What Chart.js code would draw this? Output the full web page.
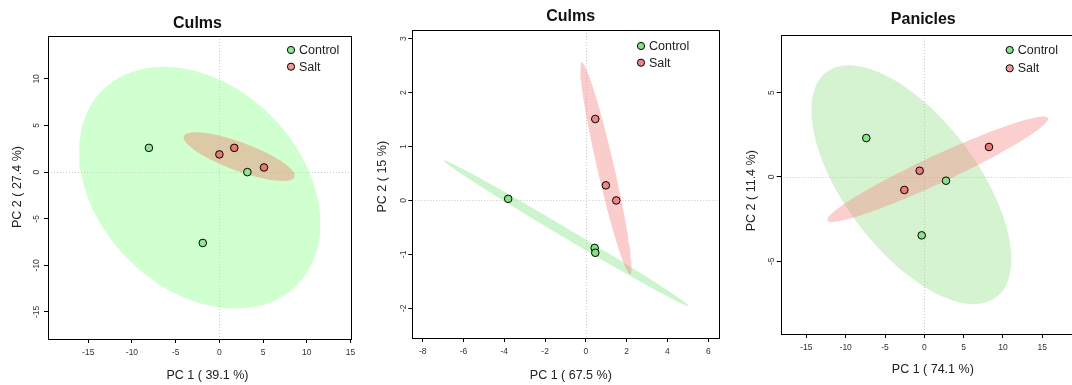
<!DOCTYPE html>
<html>
<head>
<meta charset="utf-8">
<script src="https://cdn.jsdelivr.net/npm/chart.js@4.4.1/dist/chart.umd.min.js"></script>
<style>
  body { margin: 0; width: 1072px; height: 385px; overflow: hidden; background: #fff; position: relative; }
  .panel { position: absolute; top: 0; height: 385px; }
</style>
</head>
<body>
<div class="panel" style="left:0;width:360px"><canvas id="c1"></canvas></div>
<div class="panel" style="left:360px;width:360px"><canvas id="c2"></canvas></div>
<div class="panel" style="left:720px;width:365px"><canvas id="c3"></canvas></div>
<script>
const groups = ['Control', 'Salt'];

// Culms, first PCA (PC1 39.1 %, PC2 27.4 %)
const culmsA_controlPC1 = [-8.06, -1.9, 3.2];
const culmsA_controlPC2 = [2.6, -7.6, 0.0];
const culmsA_saltPC1 = [0.0, 1.7, 5.1];
const culmsA_saltPC2 = [1.9, 2.6, 0.5];
const culmsA_xTicks = [-15, -10, -5, 0, 5, 10, 15];
const culmsA_yTicks = [-15, -10, -5, 0, 5, 10];

// Culms, second PCA (PC1 67.5 %, PC2 15 %)
const culmsB_controlPC1 = [-3.81, 0.43, 0.46];
const culmsB_controlPC2 = [0.03, -0.88, -0.97];
const culmsB_saltPC1 = [0.46, 0.98, 1.49];
const culmsB_saltPC2 = [1.51, 0.28, 0.0];
const culmsB_xTicks = [-8, -6, -4, -2, 0, 2, 4, 6];
const culmsB_yTicks = [-2, -1, 0, 1, 2, 3];

// Panicles (PC1 74.1 %, PC2 11.4 %)
const pan_controlPC1 = [-7.38, 2.76, -0.33];
const pan_controlPC2 = [2.31, -0.22, -3.46];
const pan_saltPC1 = [-0.59, -2.54, 8.23];
const pan_saltPC2 = [0.37, -0.77, 1.78];
const pan_xTicks = [-15, -10, -5, 0, 5, 10, 15];
const pan_yTicks = [-5, 0, 5];

const FONT = '"Liberation Sans", Arial, sans-serif';

// 95% confidence ellipse, as in ellipse::ellipse(cov, centre, level = 0.95)
function confEllipse(xs, ys) {
  const n = xs.length;
  const mx = xs.reduce((a, b) => a + b, 0) / n;
  const my = ys.reduce((a, b) => a + b, 0) / n;
  let sxx = 0, syy = 0, sxy = 0;
  for (let i = 0; i < n; i++) {
    sxx += (xs[i] - mx) ** 2;
    syy += (ys[i] - my) ** 2;
    sxy += (xs[i] - mx) * (ys[i] - my);
  }
  const sx = Math.sqrt(sxx / (n - 1)), sy = Math.sqrt(syy / (n - 1));
  const r = (sxy / (n - 1)) / (sx * sy);
  const t = Math.sqrt(5.991465); // qchisq(0.95, 2)
  const a = Math.acos(r);
  const pts = [];
  for (let i = 0; i <= 100; i++) {
    const d = 2 * Math.PI * i / 100;
    pts.push({ x: mx + t * sx * Math.cos(d + a / 2), y: my + t * sy * Math.cos(d - a / 2) });
  }
  return pts;
}

const toPoints = (xs, ys) => xs.map((x, i) => ({ x: x, y: ys[i] }));

// draws the box, zero lines, title, legend and axis titles
const decorPlugin = {
  id: 'decor',
  beforeDatasetsDraw(chart) {
    const { ctx, chartArea: a, scales: { x, y } } = chart;
    ctx.save();
    ctx.strokeStyle = '#c8c8c8';
    ctx.lineWidth = 1;
    ctx.setLineDash([1, 2]);
    const x0 = Math.round(x.getPixelForValue(0)) + 0.5;
    const y0 = Math.round(y.getPixelForValue(0)) + 0.5;
    ctx.beginPath();
    ctx.moveTo(x0, a.top); ctx.lineTo(x0, a.bottom);
    ctx.moveTo(a.left, y0); ctx.lineTo(a.right, y0);
    ctx.stroke();
    ctx.restore();
  },
  afterDraw(chart, args, o) {
    const { ctx, chartArea: a } = chart;
    ctx.save();
    ctx.strokeStyle = '#000';
    ctx.lineWidth = 1;
    ctx.strokeRect(Math.round(a.left) + 0.5, Math.round(a.top) + 0.5,
                   Math.round(a.right - a.left), Math.round(a.bottom - a.top));

    ctx.fillStyle = '#111';
    ctx.textAlign = 'center';
    ctx.textBaseline = 'middle';
    ctx.font = 'bold 16px ' + FONT;
    ctx.fillText(o.title, o.titlePos[0], o.titlePos[1]);

    ctx.fillStyle = '#222';
    ctx.font = '12.5px ' + FONT;
    ctx.fillText(o.xTitle, o.xTitlePos[0], o.xTitlePos[1]);
    ctx.save();
    ctx.translate(o.yTitlePos[0], o.yTitlePos[1]);
    ctx.rotate(-Math.PI / 2);
    ctx.fillText(o.yTitle, 0, 0);
    ctx.restore();

    // legend
    ctx.textAlign = 'left';
    groups.forEach((g, i) => {
      const ly = o.legendPos[1] + i * o.legendGap;
      ctx.beginPath();
      ctx.arc(o.legendPos[0], ly, 3.6, 0, 2 * Math.PI);
      ctx.fillStyle = o.pointColors[i];
      ctx.fill();
      ctx.strokeStyle = '#000';
      ctx.lineWidth = 1;
      ctx.stroke();
      ctx.fillStyle = '#222';
      ctx.fillText(g, o.legendPos[0] + 8, ly + 0.5);
    });
    ctx.restore();
  }
};

function makePanel(id, p) {
  const W = p.width;
  const ellipseDs = (xs, ys, color, order) => ({
    type: 'scatter',
    data: confEllipse(xs, ys),
    showLine: true,
    fill: 'shape',
    backgroundColor: color,
    borderWidth: 0,
    borderColor: 'rgba(0,0,0,0)',
    pointRadius: 0,
    pointHoverRadius: 0,
    order: order
  });
  const pointDs = (xs, ys, color, order) => ({
    type: 'scatter',
    data: toPoints(xs, ys),
    backgroundColor: color,
    borderColor: '#000',
    borderWidth: 1,
    pointRadius: 3.8,
    order: order
  });
  const tickFont = { family: FONT, size: 8.5 };
  new Chart(document.getElementById(id), {
    type: 'scatter',
    data: {
      datasets: [
        ellipseDs(p.cx, p.cy, p.fills[0], 4),
        ellipseDs(p.sx, p.sy, p.fills[1], 3),
        pointDs(p.cx, p.cy, p.pointColors[0], 1),
        pointDs(p.sx, p.sy, p.pointColors[1], 0)
      ]
    },
    options: {
      responsive: false,
      animation: false,
      layout: { padding: { left: 0, top: p.area[1], right: W - p.area[2], bottom: 0 } },
      plugins: {
        legend: { display: false },
        tooltip: { enabled: false },
        decor: p.text
      },
      scales: {
        x: {
          min: p.xRange[0], max: p.xRange[1],
          afterBuildTicks: s => { s.ticks = p.xTicks.map(v => ({ value: v })); },
          afterFit: s => { s.height = 385 - p.area[3]; s.paddingLeft = 0; s.paddingRight = 0; },
          grid: { drawOnChartArea: false, color: '#000', tickLength: 4 },
          border: { display: false },
          ticks: { font: tickFont, color: '#333', padding: 5, maxRotation: 0, autoSkip: false }
        },
        y: {
          min: p.yRange[0], max: p.yRange[1],
          afterBuildTicks: s => { s.ticks = p.yTicks.map(v => ({ value: v })); },
          afterFit: s => { s.width = p.area[0]; s.paddingTop = 0; s.paddingBottom = 0; },
          grid: { drawOnChartArea: false, color: '#000', tickLength: 4 },
          border: { display: false },
          ticks: { font: tickFont, color: '#333', padding: 1, minRotation: 90, maxRotation: 90,
                   crossAlign: 'center', autoSkip: false }
        }
      }
    },
    plugins: [decorPlugin]
  });
}

function sizeCanvas(id, w) {
  const c = document.getElementById(id);
  c.width = w; c.height = 385;
  c.style.width = w + 'px'; c.style.height = '385px';
}

sizeCanvas('c1', 360);
sizeCanvas('c2', 366);
sizeCanvas('c3', 365);

makePanel('c1', {
  width: 360, area: [48, 36, 351, 339],
  xRange: [-19.6, 15.05], yRange: [-17.9, 14.6],
  xTicks: culmsA_xTicks, yTicks: culmsA_yTicks,
  cx: culmsA_controlPC1, cy: culmsA_controlPC2, sx: culmsA_saltPC1, sy: culmsA_saltPC2,
  fills: ['rgba(150,255,150,0.45)', 'rgba(240,122,105,0.4)'],
  pointColors: ['#8ee88e', '#ea786b'],
  text: {
    title: 'Culms', titlePos: [197.5, 24],
    xTitle: 'PC 1 ( 39.1 %)', xTitlePos: [207.5, 376],
    yTitle: 'PC 2 ( 27.4 %)', yTitlePos: [18, 187],
    legendPos: [291, 50], legendGap: 16.7,
    pointColors: ['#8ee88e', '#f09a94']
  }
});

makePanel('c2', {
  width: 366, area: [52.3, 30, 359.5, 338],
  xRange: [-8.51, 6.55], yRange: [-2.55, 3.16],
  xTicks: culmsB_xTicks, yTicks: culmsB_yTicks,
  cx: culmsB_controlPC1, cy: culmsB_controlPC2, sx: culmsB_saltPC1, sy: culmsB_saltPC2,
  fills: ['rgba(144,232,144,0.45)', 'rgba(242,128,128,0.4)'],
  pointColors: ['#86e086', '#ef8585'],
  text: {
    title: 'Culms', titlePos: [210.7, 17],
    xTitle: 'PC 1 ( 67.5 %)', xTitlePos: [210.8, 375.7],
    yTitle: 'PC 2 ( 15 %)', yTitlePos: [22.7, 176.7],
    legendPos: [281, 46], legendGap: 16.7,
    pointColors: ['#86e086', '#ef8585']
  }
});

makePanel('c3', {
  width: 365, area: [60.7, 35, 356, 334],
  xRange: [-18.27, 19.3], yRange: [-9.31, 8.42],
  xTicks: pan_xTicks, yTicks: pan_yTicks,
  cx: pan_controlPC1, cy: pan_controlPC2, sx: pan_saltPC1, sy: pan_saltPC2,
  fills: ['rgba(150,225,140,0.4)', 'rgba(246,130,130,0.38)'],
  pointColors: ['#88e288', '#ea7a72'],
  text: {
    title: 'Panicles', titlePos: [203.3, 19.3],
    xTitle: 'PC 1 ( 74.1 %)', xTitlePos: [212.8, 370],
    yTitle: 'PC 2 ( 11.4 %)', yTitlePos: [31.7, 190.7],
    legendPos: [289.7, 50], legendGap: 18.3,
    pointColors: ['#88e288', '#f29a94']
  }
});
</script>
</body>
</html>
